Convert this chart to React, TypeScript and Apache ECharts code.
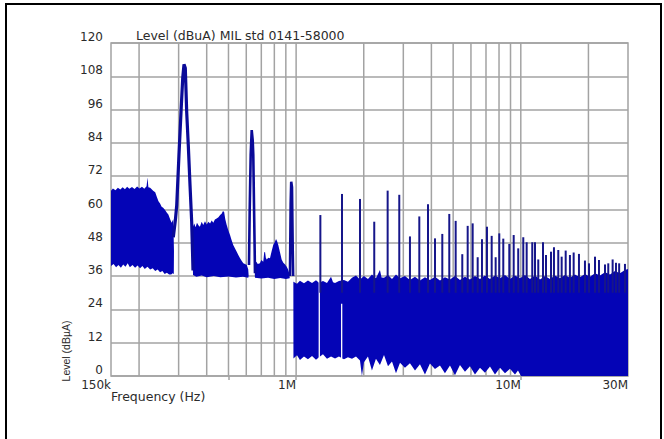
import React, { useEffect, useRef } from "react";
import * as echarts from "echarts";

// ---- data (frequency in kHz, level in dBµA) ----
const xLabelKHz = [150, 1000, 10000, 30000];
const xLabelText = ["150k", "1M", "10M", "30M"];
const xTickKHz = [500, 1000, 10000];
const gridKHz = [200, 300, 400, 500, 600, 700, 800, 900, 1000, 2000, 3000, 4000, 5000, 6000, 7000, 8000, 9000, 10000, 20000];

// upper edge of the emission band
const upperEnvelope: [number, number][] = [
  [150, 66.8], [153, 67.6], [157, 66.9], [161, 67.8], [165, 67.2], [169, 68.0], [173, 67.3], [177, 68.2],
  [181, 67.5], [186, 68.1], [191, 67.4], [196, 68.3], [201, 67.6], [206, 68.2], [211, 67.5], [216, 68.4],
  [218, 71.5], [220, 68.0], [224, 67.8], [227, 67.4], [231, 66.8], [236, 66.2], [240, 64.5], [244, 63.0],
  [248, 62.2], [252, 61.0], [256, 60.6], [261, 59.8], [266, 58.8], [270, 58.2], [275, 56.5], [279, 55.2],
  [284, 56.5], [286, 45], [346, 45],
  [347.6, 53.8], [352, 55.0], [357, 53.6], [362, 55.2], [368, 54.2], [373, 53.8], [380, 55.6], [386, 54.4],
  [393, 55.8], [400, 54.6], [407, 55.6], [414, 55.0], [421, 56.0], [428, 55.2], [435, 56.4], [443, 56.8],
  [451, 57.2], [459, 58.0], [466, 58.5], [472, 59.4], [478, 59.2], [484, 56.5], [491, 54.4], [499, 52.5],
  [508, 50.8], [516, 49.0], [525, 47.2], [534, 46.0], [544, 44.8], [553, 43.6], [563, 42.4], [572, 41.5],
  [582, 40.6], [592, 40.4], [603, 40.0], [612, 38.5], [615, 36], [655, 36],
  [656, 40.6], [665, 41.2], [675, 40.4], [690, 40.6], [700, 41.8], [714, 41.2], [721, 44.5], [727, 44.8],
  [733, 42.6], [740, 42.0], [752, 42.6], [765, 42.4], [778, 45.0], [791, 47.2], [803, 48.2], [814, 49.4],
  [823, 48.6], [833, 47.2], [848, 44.5], [862, 42.0], [877, 40.8], [893, 40.2], [908, 39.4], [920, 38.5],
  [932, 37.0], [937, 35.3], [972, 35.3],
  [973, 34.0], [1009, 33.2], [1040, 34.3], [1084, 33.4], [1129, 34.4], [1177, 33.5], [1226, 34.5], [1264, 33.6],
  [1317, 34.2], [1372, 33.5], [1430, 35.8], [1460, 33.8], [1490, 33.5], [1551, 34.2], [1633, 34.6], [1701, 34.0],
  [1773, 35.4], [1847, 36.2], [1924, 34.8], [2004, 36.0], [2088, 35.0], [2175, 36.6], [2266, 35.2], [2361, 38.2],
  [2400, 35.5], [2461, 35.4], [2564, 36.4], [2671, 35.0], [2783, 36.6], [2900, 35.2], [3051, 36.0], [3211, 34.6],
  [3381, 35.8], [3558, 34.4], [3745, 35.6], [3942, 34.6], [4149, 35.8], [4368, 34.4], [4596, 35.6], [4839, 34.8],
  [5093, 36.0], [5361, 34.6], [5643, 35.8], [5940, 34.8], [6252, 36.0], [6581, 35.0], [6927, 36.2], [7292, 35.0],
  [7675, 36.2], [8079, 35.2], [8504, 36.4], [8951, 35.0], [9422, 36.2], [9918, 35.2], [10439, 36.4], [10988, 35.0],
  [11564, 36.2], [12174, 34.8], [12815, 36.0], [13488, 35.0], [14193, 36.2], [14937, 35.2], [15720, 36.4],
  [16545, 35.4], [17415, 36.6], [18330, 35.6], [19300, 36.8], [20325, 35.8], [21390, 37.0], [22515, 36.2],
  [23700, 37.4], [24945, 36.6], [26250, 37.8], [27630, 37.0], [29080, 38.2], [30000, 38.6],
];

// lower edge of the emission band
const lowerEnvelope: [number, number][] = [
  [150, 39.6], [154, 40.4], [158, 39.2], [162, 40.0], [166, 39.0], [170, 40.2], [174, 39.4], [178, 40.6],
  [182, 39.2], [187, 40.0], [192, 39.0], [197, 39.8], [202, 38.8], [207, 39.6], [212, 38.6], [218, 39.4],
  [224, 38.4], [230, 38.8], [236, 37.8], [242, 38.4], [248, 37.4], [254, 37.8], [260, 36.8], [266, 37.2],
  [272, 36.6], [278, 36.6], [282, 37.0], [285.5, 36.8], [286, 45], [346, 45],
  [347.6, 36.4], [360, 35.8], [380, 36.2], [400, 35.6], [430, 36.0], [460, 35.6], [500, 35.9], [540, 35.5],
  [580, 35.8], [612, 35.4], [615, 36], [655, 36],
  [656, 35.4], [700, 35.1], [750, 35.4], [800, 35.0], [850, 35.3], [900, 35.0], [935, 35.2], [937, 35.3], [972, 35.3],
  [973, 6.3], [1009, 7.5], [1040, 5.8], [1084, 7.0], [1129, 6.0], [1177, 7.2], [1226, 5.9], [1264, 6.8],
  [1317, 7.8], [1372, 6.2], [1430, 7.0], [1490, 6.3], [1551, 7.0], [1633, 6.0], [1701, 6.8], [1773, 6.2],
  [1847, 7.0], [1924, 5.6], [1963, 0], [2004, 5.0], [2088, 7.0], [2175, 2.0], [2266, 6.2], [2361, 4.0],
  [2461, 7.6], [2564, 3.5], [2671, 5.2], [2783, 1.0], [2900, 4.8], [3051, 3.0], [3211, 4.6], [3381, 2.0],
  [3558, 4.2], [3745, 0.5], [3942, 4.5], [4149, 2.5], [4368, 3.8], [4596, 1.0], [4839, 3.8], [5093, 0.3],
  [5361, 4.0], [5643, 1.5], [5940, 3.5], [6252, 0.5], [6581, 3.0], [6927, 1.2], [7292, 3.4], [7675, 0.5],
  [8079, 3.0], [8504, 1.0], [8951, 2.6], [9422, 0.5], [9716, 2.0], [10020, 0], [30000, 0],
];

// narrow harmonic spikes above the band: [kHz, peak dBµA]
const spikes: [number, number][] = [
  [1282, 58], [1600, 65.6], [1924, 63.8], [2227, 55.6], [2555, 66.8], [2878, 65.3], [3211, 50.3], [3534, 57.5],
  [3863, 61.9], [4150, 49.6], [4473, 51.2], [4805, 58.4], [5130, 55.9], [5490, 43.9], [5802, 54.1], [6106, 55],
  [6428, 42.8], [6717, 49.3], [7070, 53.8], [7420, 50.5], [7728, 42.8], [8021, 51.4], [8357, 49.5], [8888, 47.6],
  [9297, 50.8], [9740, 46], [10257, 50], [10620, 48.2], [11247, 48.2], [11564, 48.2], [11960, 42], [12553, 48.2],
  [12945, 43.6], [13626, 44.8], [14048, 46.4], [14682, 45.4], [15200, 43], [15840, 45.2], [16545, 43.6],
  [17190, 44.5], [18150, 44], [19300, 41.6], [20115, 40.6], [21390, 43], [22280, 41.8], [23700, 40.2],
  [24510, 40.6], [25630, 42], [26520, 40.8], [27400, 40.6], [29080, 40.4],
];

// white gaps inside the band: [kHz, from dB, to dB]
const gaps: [number, number, number][] = [
  [1268, 6.5, 34.5],
  [1595, 6.5, 26],
];

// the three strong low-frequency peaks (traced line)
const peak1: [number, number][] = [
  [284, 50], [290, 56], [294.2, 61.6], [301, 79.6], [307.4, 95.2], [312.8, 107.3], [317, 112.3], [321.2, 111],
  [325.8, 95.2], [331.2, 83.2], [337.1, 68.8], [342.9, 55.6], [345.8, 45], [347.6, 38],
];
const peak2: [number, number][] = [
  [617, 40], [621.5, 60], [627.8, 79.6], [634.4, 88.6], [640.8, 85], [644.7, 79.6], [649.5, 61.6], [654, 45], [656, 37],
];
const peak3: [number, number][] = [
  [938.8, 36], [945.6, 62], [951, 70], [958.6, 68], [966, 45], [970, 36],
];

const BAND = "#0404b6";
const SPIKE = "#16168a";
const TRACE = "#0a0a98";
const GRID = "#a3a3a3";
const TEXT = "#2b2b2b";
const FONT = "DejaVu Sans";
const SPIKE_BASE = 30;

const lx = (kHz: number) => Math.log10(kHz * 1000);

export default function App() {
  const ref = useRef<HTMLDivElement>(null);

  useEffect(() => {
    if (!ref.current) return;
    const chart = echarts.init(ref.current, undefined, { renderer: "svg" });
    const xLabelVals = xLabelKHz.map(lx);

    const option: any = {
      animation: false,
      backgroundColor: "#ffffff",
      title: {
        text: "Level (dBuA) MIL std 0141-58000",
        left: 136,
        top: 29,
        padding: 0,
        textStyle: { fontFamily: FONT, fontSize: 12.5, fontWeight: "normal", color: TEXT },
      },
      grid: { left: 111, right: 36, top: 43, bottom: 63, show: true, borderColor: GRID, borderWidth: 1.5 },
      xAxis: {
        type: "value",
        min: lx(150),
        max: lx(30000),
        axisLine: { show: false },
        splitLine: { show: false },
        axisTick: {
          show: true,
          customValues: xTickKHz.map(lx),
          length: 4,
          lineStyle: { color: GRID, width: 1.5 },
        },
        axisLabel: {
          customValues: xLabelVals,
          formatter: (v: number) => {
            const i = xLabelVals.findIndex((c) => Math.abs(c - v) < 1e-6);
            return i >= 0 ? xLabelText[i] : "";
          },
          align: "right",
          margin: 3,
          fontFamily: FONT,
          fontSize: 12,
          color: TEXT,
        },
      },
      yAxis: {
        type: "value",
        min: 0,
        max: 120,
        interval: 12,
        axisLine: { show: false },
        axisTick: { show: false },
        splitLine: { lineStyle: { color: GRID, width: 1.5 } },
        axisLabel: { margin: 8, verticalAlign: "bottom", fontFamily: FONT, fontSize: 12, color: TEXT },
      },
      graphic: [
        {
          type: "rect",
          silent: true,
          shape: { x: 6, y: 4, width: 655, height: 470 },
          style: { fill: "none", stroke: "#000", lineWidth: 2 },
        },
        {
          type: "text",
          x: 111,
          y: 396,
          style: { text: "Frequency (Hz)", fontFamily: FONT, fontSize: 12.5, fill: TEXT, align: "left", verticalAlign: "middle" },
        },
        {
          type: "text",
          x: 66,
          y: 351,
          rotation: Math.PI / 2,
          style: { text: "Level (dBµA)", fontFamily: "Liberation Sans", fontSize: 10.5, fill: TEXT, align: "center", verticalAlign: "middle" },
        },
      ],
      series: [
        {
          type: "custom",
          name: "grid",
          z: 1,
          silent: true,
          data: gridKHz.map((f) => [lx(f), 0]),
          renderItem: (_p: any, api: any) => {
            const x = api.value(0);
            const a = api.coord([x, 0]);
            const b = api.coord([x, 120]);
            return { type: "line", shape: { x1: a[0], y1: a[1], x2: b[0], y2: b[1] }, style: { stroke: GRID, lineWidth: 1.5 } };
          },
        },
        {
          type: "custom",
          name: "band",
          z: 2,
          silent: true,
          data: [[lx(150), 0]],
          renderItem: (_p: any, api: any) => {
            const up = upperEnvelope.map(([f, v]) => api.coord([lx(f), v]));
            const lo = lowerEnvelope.map(([f, v]) => api.coord([lx(f), v])).reverse();
            return { type: "polygon", shape: { points: up.concat(lo) }, style: { fill: BAND } };
          },
        },
        {
          type: "custom",
          name: "gaps",
          z: 3,
          silent: true,
          data: gaps.map(([f, a, b]) => [lx(f), a, b]),
          renderItem: (_p: any, api: any) => {
            const x = api.value(0);
            const a = api.coord([x, api.value(1)]);
            const b = api.coord([x, api.value(2)]);
            return { type: "line", shape: { x1: a[0], y1: a[1], x2: b[0], y2: b[1] }, style: { stroke: "#ffffff", lineWidth: 1.3 } };
          },
        },
        {
          type: "custom",
          name: "spikes",
          z: 4,
          silent: true,
          data: spikes.map(([f, v]) => [lx(f), v]),
          renderItem: (_p: any, api: any) => {
            const x = api.value(0);
            const a = api.coord([x, SPIKE_BASE]);
            const b = api.coord([x, api.value(1)]);
            return { type: "line", shape: { x1: a[0], y1: a[1], x2: b[0], y2: b[1] }, style: { stroke: SPIKE, lineWidth: 2 } };
          },
        },
        ...[peak1, peak2, peak3].map((pk, i) => ({
          type: "line",
          name: "peak" + (i + 1),
          z: 5,
          silent: true,
          showSymbol: false,
          symbol: "none",
          data: pk.map(([f, v]) => [lx(f), v]),
          lineStyle: { color: TRACE, width: i === 0 ? 3.2 : 2.6 },
        })),
      ],
    };

    chart.setOption(option);
    return () => chart.dispose();
  }, []);

  return (
    <div
      ref={ref}
      style={{ position: "fixed", left: 0, top: 0, width: 664, height: 439, background: "#fff" }}
    />
  );
}
